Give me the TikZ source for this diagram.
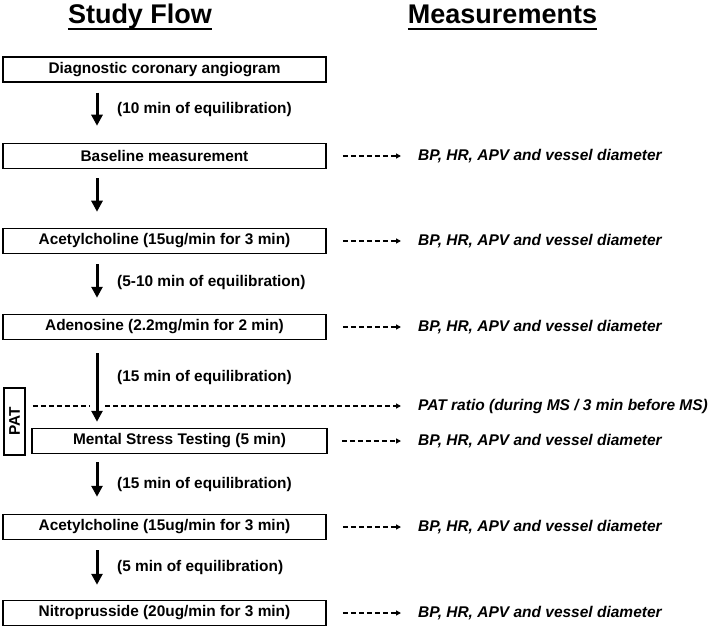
\documentclass[tikz,border=0pt]{standalone}
\usepackage{fontspec}
\setmainfont{Liberation Sans}
\usetikzlibrary{arrows.meta}
\tikzset{
  stepbox/.style={draw, line width=1.5pt, minimum width=323pt, minimum height=25pt, inner sep=0pt, font=\bfseries\fontsize{15.4}{18}\selectfont},
  lbl/.style={anchor=west, inner sep=0pt, font=\bfseries\fontsize{15.4}{18}\selectfont},
  meas/.style={anchor=west, inner sep=0pt, font=\bfseries\itshape\fontsize{15.5}{18}\selectfont},
  ttl/.style={inner sep=0pt, font=\bfseries\fontsize{27}{32}\selectfont},
  flow/.style={line width=3pt, -{Triangle[length=11pt,width=11pt]}},
  dashar/.style={line width=1.6pt, dash pattern=on 5pt off 3pt, -{Triangle[length=5pt,width=5pt]}},
  dashln/.style={line width=1.6pt, dash pattern=on 5pt off 3pt},
}
\begin{document}
\begin{tikzpicture}[x=1pt,y=-1pt]
\useasboundingbox (0,0) rectangle (709,628);
% titles
\node[ttl, anchor=base] (t1) at (140,24) {Study Flow};
\node[ttl, anchor=base] (t2) at (502.5,24) {Measurements};
\draw[line width=2.8pt] ([yshift=-5pt]t1.base west) -- ([yshift=-5pt]t1.base east);
\draw[line width=2.8pt] ([yshift=-5pt]t2.base west) -- ([yshift=-5pt]t2.base east);
% boxes
\node[stepbox] (b1) at (164.5,69.5) {Diagnostic coronary angiogram};
\node[stepbox] (b2) at (164.5,156) {Baseline measurement};
\node[stepbox] (b3) at (164.5,241) {Acetylcholine (15ug/min for 3 min)};
\node[stepbox] (b4) at (164.5,327) {Adenosine (2.2mg/min for 2 min)};
\node[stepbox, minimum width=295pt] (b5) at (179.5,441) {Mental Stress Testing (5 min)};
\node[stepbox] (b6) at (164.5,527) {Acetylcholine (15ug/min for 3 min)};
\node[stepbox] (b7) at (164.5,613) {Nitroprusside (20ug/min for 3 min)};
\node[stepbox, minimum width=67pt, minimum height=21pt, rotate=90] (pat) at (14.5,421.5) {PAT};
% flow arrows
\draw[flow, shorten <=10pt, shorten >=17pt] ([xshift=-67.5pt]b1.south) -- ([xshift=-67.5pt]b2.north);
\draw[flow, shorten <=9pt, shorten >=16pt] ([xshift=-67.5pt]b2.south) -- ([xshift=-67.5pt]b3.north);
\draw[flow, shorten <=10pt, shorten >=16pt] ([xshift=-67.5pt]b3.south) -- ([xshift=-67.5pt]b4.north);
\draw[flow, shorten <=13pt, shorten >=6pt] ([xshift=-67.5pt]b4.south) -- ([xshift=-82.5pt]b5.north);
\draw[flow, shorten <=8pt, shorten >=17pt] ([xshift=-82.5pt]b5.south) -- ([xshift=-67.5pt]b6.north);
\draw[flow, shorten <=10pt, shorten >=15pt] ([xshift=-67.5pt]b6.south) -- ([xshift=-67.5pt]b7.north);
% labels
\node[lbl] (l1) at (117,110) {(10 min of equilibration)};
\node[lbl] (l3) at (117,283) {(5-10 min of equilibration)};
\node[lbl] (l4) at (117,378) {(15 min of equilibration)};
\node[lbl] (l5) at (117,485) {(15 min of equilibration)};
\node[lbl] (l6) at (117,568) {(5 min of equilibration)};
% measurements
\node[meas] (m2) at (418,156) {BP, HR, APV and vessel diameter};
\node[meas] (m3) at (418,241) {BP, HR, APV and vessel diameter};
\node[meas] (m4) at (418,327) {BP, HR, APV and vessel diameter};
\node[meas] (mp) at (418,406) {PAT ratio (during MS / 3 min before MS)};
\node[meas] (m5) at (418,441) {BP, HR, APV and vessel diameter};
\node[meas] (m6) at (418,527) {BP, HR, APV and vessel diameter};
\node[meas] (m7) at (418,613) {BP, HR, APV and vessel diameter};
\draw[dashar] ([xshift=16pt]b2.east) -- ([xshift=-17pt]m2.west);
\draw[dashar] ([xshift=16pt]b3.east) -- ([xshift=-17pt]m3.west);
\draw[dashar] ([xshift=16pt]b4.east) -- ([xshift=-17pt]m4.west);
\draw[dashar] ([xshift=14pt]b5.east) -- ([xshift=-17pt]m5.west);
\draw[dashar] ([xshift=16pt]b6.east) -- ([xshift=-17pt]m6.west);
\draw[dashar] ([xshift=16pt]b7.east) -- ([xshift=-17pt]m7.west);
% PAT dashed line with gap at the flow arrow
\coordinate (gl) at (89,406);
\coordinate (gr) at (105,406);
\draw[dashln] ([xshift=7pt]pat.south |- mp.west) -- (gl);
\draw[dashar] (gr) -- ([xshift=-17pt]mp.west);
\end{tikzpicture}
\end{document}
